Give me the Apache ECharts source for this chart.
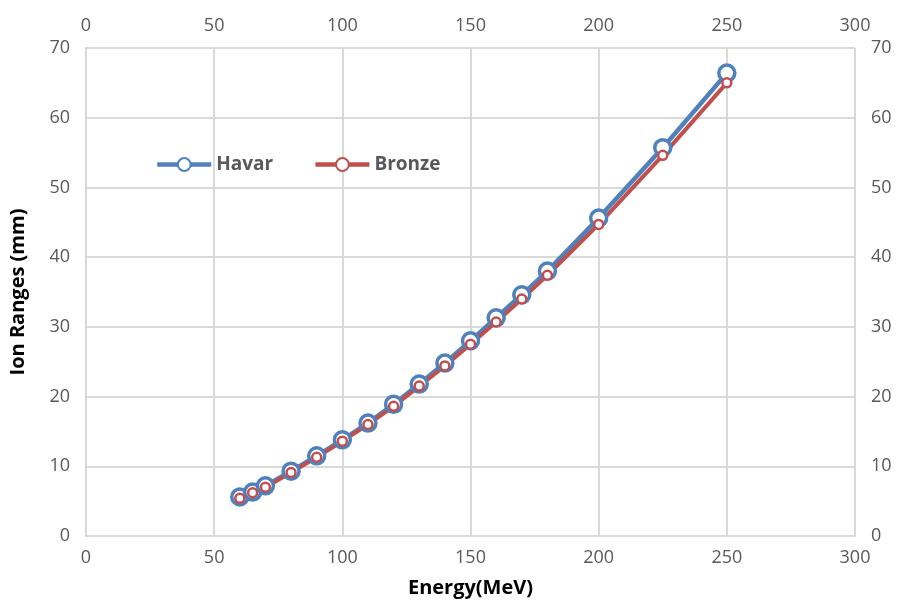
<!DOCTYPE html>
<html>
<head>
<meta charset="utf-8">
<script src="https://cdn.jsdelivr.net/npm/echarts@6/dist/echarts.min.js"></script>
<style>
  html, body { margin: 0; padding: 0; background: #fff; }
  #chart { width: 909px; height: 611px; }
</style>
</head>
<body>
<div id="chart"></div>
<script>
// energies in MeV
const energy = [60, 65, 70, 80, 90, 100, 110, 120, 130, 140, 150, 160, 170, 180, 200, 225, 250];
// ion ranges in mm
const havar = [5.6, 6.3, 7.2, 9.3, 11.5, 13.8, 16.2, 18.9, 21.8, 24.8, 28.0, 31.3, 34.6, 38.0, 45.6, 55.7, 66.4];
const bronze = [5.4, 6.2, 7.0, 9.1, 11.3, 13.6, 16.0, 18.6, 21.5, 24.4, 27.5, 30.7, 34.0, 37.4, 44.7, 54.6, 65.0];

const font = 'Open Sans';
const gridColor = '#d9d9d9';
const labelColor = '#595959';

const chart = echarts.init(document.getElementById('chart'));

function xAxisCfg(pos, showName) {
    return {
        type: 'value',
        position: pos,
        min: 0, max: 300, interval: 50,
        name: showName ? 'Energy(MeV)' : '',
        nameLocation: 'middle',
        nameGap: 42,
        nameTextStyle: { fontFamily: font, fontWeight: 'bold', fontSize: 20, color: '#000' },
        axisLine: { show: true, lineStyle: { color: gridColor, width: 2 } },
        axisTick: { show: false },
        axisLabel: { fontFamily: font, fontSize: 18, color: labelColor, margin: 13 },
        splitLine: { show: showName, lineStyle: { color: gridColor, width: 2 } }
    };
}

function yAxisCfg(pos, showName) {
    return {
        type: 'value',
        position: pos,
        min: 0, max: 70, interval: 10,
        name: showName ? 'Ion Ranges (mm)' : '',
        nameLocation: 'middle',
        nameGap: 58,
        nameTextStyle: { fontFamily: font, fontWeight: 'bold', fontSize: 20, color: '#000' },
        axisLine: { show: true, lineStyle: { color: gridColor, width: 2 } },
        axisTick: { show: false },
        axisLabel: { fontFamily: font, fontSize: 18, color: labelColor, margin: 16 },
        splitLine: { show: showName, lineStyle: { color: gridColor, width: 2 } }
    };
}

const option = {
    animation: false,
    backgroundColor: '#fff',
    grid: { left: 86, right: 54, top: 48, bottom: 75 },
    legend: {
        left: 150,
        top: 150,
        itemWidth: 54,
        itemHeight: 16,
        itemGap: 40,
        lineStyle: { width: 4.5 },
        textStyle: { fontFamily: font, fontWeight: 'bold', fontSize: 19, color: labelColor },
        data: ['Havar', 'Bronze']
    },
    xAxis: [xAxisCfg('bottom', true), xAxisCfg('top', false)],
    yAxis: [yAxisCfg('left', true), yAxisCfg('right', false)],
    series: [
        {
            name: 'Havar',
            type: 'line',
            data: energy.map((e, i) => [e, havar[i]]),
            symbol: 'circle',
            symbolSize: 16,
            itemStyle: { color: '#fff', borderColor: '#4f81bd', borderWidth: 3.5 },
            lineStyle: { color: '#4f81bd', width: 4.5 }
        },
        {
            name: 'Bronze',
            type: 'line',
            data: energy.map((e, i) => [e, bronze[i]]),
            symbol: 'circle',
            symbolSize: 9,
            itemStyle: { color: '#fff', borderColor: '#c0504d', borderWidth: 2.5 },
            lineStyle: { color: '#c0504d', width: 4 }
        }
    ]
};

chart.setOption(option);
window.addEventListener('resize', chart.resize);
</script>
</body>
</html>
